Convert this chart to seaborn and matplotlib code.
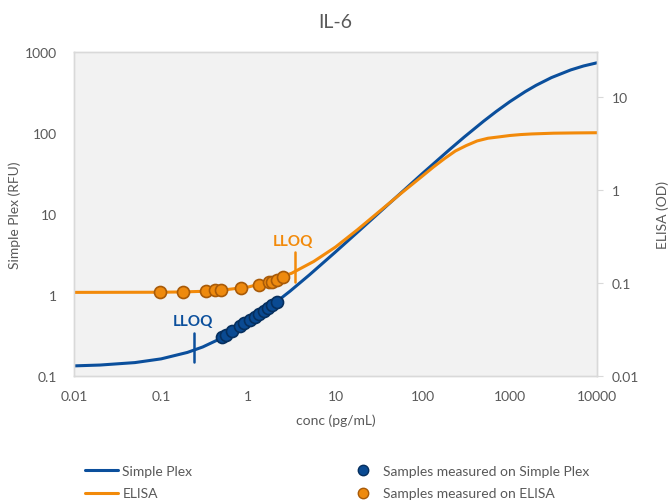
import matplotlib
matplotlib.use("Agg")
import matplotlib.pyplot as plt
from matplotlib.lines import Line2D
import seaborn as sns
import pandas as pd

# standard curves
sp_conc = [0.01, 0.02, 0.05, 0.1, 0.2, 0.3, 0.5, 0.7, 1, 1.5, 2, 3, 5, 10, 20,
           30, 50, 100, 200, 300, 500, 700, 1000, 1500, 2000, 3000, 5000, 7000, 10000]
sp_rfu = [0.1333, 0.1366, 0.1464, 0.1628, 0.1955, 0.2283, 0.296, 0.365, 0.468,
          0.63, 0.79, 1.112, 1.765, 3.40, 6.64, 9.86, 16.2, 31.8, 61.4, 89.2,
          139.8, 184.8, 243.7, 323.9, 387.8, 483, 601, 672, 736]

elisa_conc = [0.01, 0.1, 0.178, 0.316, 0.562, 1, 1.78, 3.16, 5.62, 10, 17.8, 31.6,
              56.2, 100, 133, 178, 237, 316, 422, 562, 750, 1000, 1334, 1780,
              3160, 5620, 10000]
elisa_od = [0.0791, 0.0794, 0.0800, 0.0813, 0.0847, 0.0904, 0.1035, 0.1274, 0.1698,
            0.2427, 0.3715, 0.582, 0.912, 1.413, 1.758, 2.163, 2.61, 2.985, 3.35,
            3.58, 3.70, 3.83, 3.92, 3.98, 4.055, 4.083, 4.102]

# samples
sp_samp_conc = [0.50, 0.555, 0.65, 0.80, 0.89, 1.045, 1.19, 1.32, 1.51, 1.68, 1.87, 2.13]
sp_samp_rfu = [0.30, 0.32, 0.36, 0.42, 0.45, 0.49, 0.54, 0.58, 0.64, 0.69, 0.75, 0.83]

elisa_samp_conc = [0.097, 0.176, 0.327, 0.415, 0.483, 0.824, 1.31, 1.73, 1.85, 2.16, 2.48]
elisa_samp_od = [0.0793, 0.0804, 0.0818, 0.0835, 0.084, 0.0886, 0.0955, 0.1014,
                 0.1035, 0.1085, 0.1150]

# LLOQ markers
sp_lloq = 0.24
sp_lloq_span = [0.148, 0.34]
elisa_lloq = 3.43
elisa_lloq_span = [0.101, 0.213]

x_ticks = [0.01, 0.1, 1, 10, 100, 1000, 10000]
x_labels = ["0.01", "0.1", "1", "10", "100", "1000", "10000"]
y1_ticks = [0.1, 1, 10, 100, 1000]
y1_labels = ["0.1", "1", "10", "100", "1000"]
y2_ticks = [0.01, 0.1, 1, 10]
y2_labels = ["0.01", "0.1", "1", "10"]

blue = "#0b4f9c"
blue_dot = "#0a4a92"
blue_edge = "#062f5e"
orange = "#f28a0a"
orange_dot = "#ee8a0e"
orange_edge = "#a85a08"
grey_txt = "#595959"
spine_c = "#d9d9d9"

sns.set_theme(style="white")
plt.rcParams['font.family'] = ['Lato', 'DejaVu Sans']

fig = plt.figure(figsize=(6.69, 5.02), dpi=100)
ax = fig.add_axes([74/669, 1-377/502, (597-74)/669, (377-53)/502])
ax2 = ax.twinx()

ax.set_facecolor("#f2f2f2")
ax.set_xscale("log")
ax.set_yscale("log")
ax2.set_yscale("log")

df_sp = pd.DataFrame({"conc": sp_conc, "val": sp_rfu})
df_el = pd.DataFrame({"conc": elisa_conc, "val": elisa_od})
sns.lineplot(data=df_sp, x="conc", y="val", ax=ax, color=blue, lw=2.2,
             estimator=None, sort=False, zorder=2)
sns.lineplot(data=df_el, x="conc", y="val", ax=ax2, color=orange, lw=2.2,
             estimator=None, sort=False, zorder=2)

sns.scatterplot(x=sp_samp_conc, y=sp_samp_rfu, ax=ax, color=blue_dot,
                edgecolor=blue_edge, linewidth=1.2, s=75, zorder=3)
sns.scatterplot(x=elisa_samp_conc, y=elisa_samp_od, ax=ax2, color=orange_dot,
                edgecolor=orange_edge, linewidth=1.2, s=75, zorder=3)

# LLOQ ticks and labels
ax.plot([sp_lloq, sp_lloq], sp_lloq_span, color=blue, lw=1.8)
ax.text(0.23, 0.48, "LLOQ", color=blue, fontsize=11, fontweight="bold",
        ha="center", va="center")
ax2.plot([elisa_lloq, elisa_lloq], elisa_lloq_span, color=orange, lw=1.8)
ax2.text(3.25, 0.284, "LLOQ", color=orange, fontsize=11, fontweight="bold",
         ha="center", va="center")

ax.set_xlim(0.01, 10000)
ax.set_ylim(0.1, 1000)
ax2.set_ylim(0.01, 10**(-2 + 324/93.1))

ax.set_xticks(x_ticks, x_labels)
ax.set_yticks(y1_ticks, y1_labels)
ax2.set_yticks(y2_ticks, y2_labels)
ax.minorticks_off()
ax2.minorticks_off()

ax.tick_params(axis="x", length=0, pad=10, labelsize=10, labelcolor=grey_txt)
ax.tick_params(axis="y", length=0, pad=12, labelsize=10, labelcolor=grey_txt)
ax2.tick_params(axis="y", length=4.5, width=0.8, color=spine_c, pad=6,
                labelsize=10, labelcolor=grey_txt)

for a in (ax, ax2):
    for s in a.spines.values():
        s.set_color(spine_c)
        s.set_linewidth(1)

ax.set_xlabel("conc (pg/mL)", fontsize=10, color=grey_txt, labelpad=8)
ax.set_ylabel("Simple Plex (RFU)", fontsize=10, color=grey_txt)
ax2.set_ylabel("ELISA (OD)", fontsize=10, color=grey_txt, rotation=90)
ax2.yaxis.set_label_coords(1.114, 0.5)
ax.yaxis.set_label_coords(-0.101, 0.5)
ax.set_title("IL-6", fontsize=14, color=grey_txt, pad=18)

line_handles = [Line2D([], [], color=blue, lw=2.2),
                Line2D([], [], color=orange, lw=2.2)]
dot_handles = [Line2D([], [], ls="", marker="o", markersize=7.5,
                      markerfacecolor=blue_dot, markeredgecolor=blue_edge),
               Line2D([], [], ls="", marker="o", markersize=7.5,
                      markerfacecolor=orange_dot, markeredgecolor=orange_edge)]
fig.legend(line_handles, ["Simple Plex", "ELISA"], loc="upper left",
           bbox_to_anchor=(85/669, 1-466/502), frameon=False,
           borderpad=0, borderaxespad=0, handlelength=2.4,
           handletextpad=0.3, labelspacing=0.75, fontsize=10,
           labelcolor=grey_txt)
fig.legend(dot_handles, ["Samples measured on Simple Plex",
                         "Samples measured on ELISA"],
           loc="upper left", bbox_to_anchor=(356/669, 1-466/502),
           frameon=False, borderpad=0, borderaxespad=0,
           handlelength=1.0, handletextpad=0.95, labelspacing=0.75,
           fontsize=10, labelcolor=grey_txt)

fig.savefig("out.png", dpi=100)
